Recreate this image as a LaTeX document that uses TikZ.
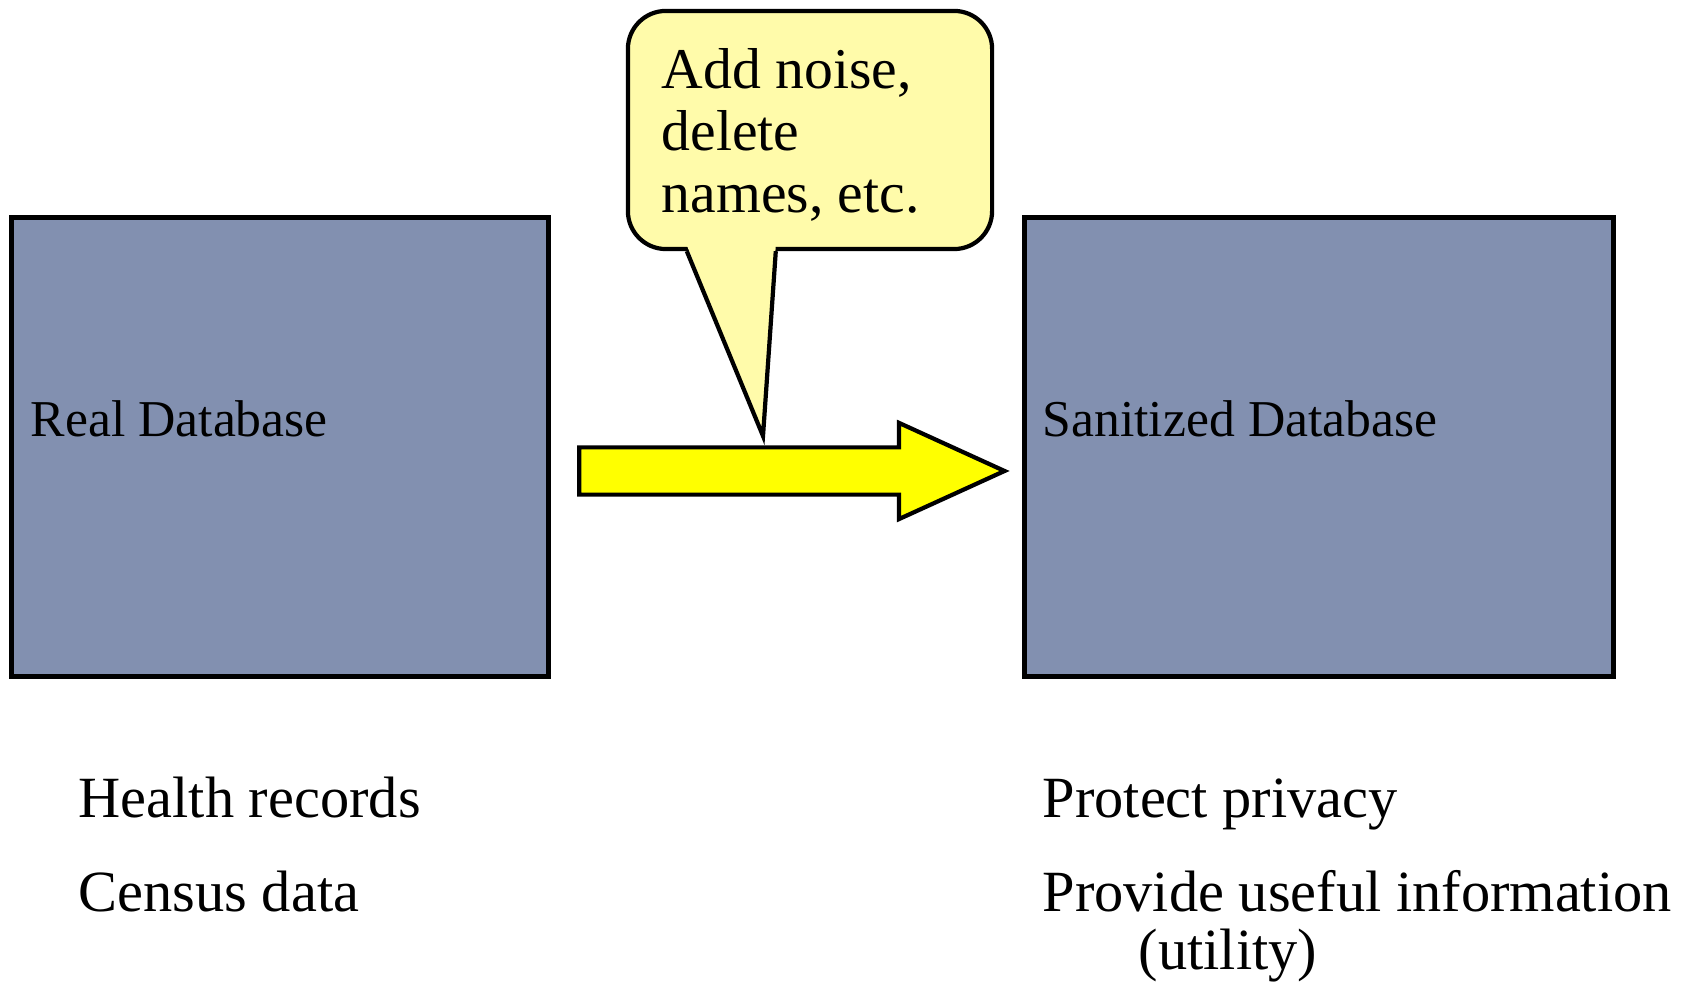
\documentclass[tikz,border=0pt]{standalone}
\usepackage{fontspec}
\setmainfont{Liberation Serif}
\usetikzlibrary{calc,shapes.arrows}
\definecolor{dbblue}{RGB}{130,144,176}
\definecolor{notefill}{RGB}{255,251,170}
\definecolor{flowyellow}{RGB}{255,255,0}

\begin{document}
\begin{tikzpicture}[x=0.01cm, y=-0.01cm,
  db/.style={draw, line width=1.4pt, fill=dbblue, inner sep=0pt},
  lbl/.style={anchor=base west, inner sep=0pt, font=\fontsize{14.7}{17}\selectfont},
  item/.style={anchor=base west, inner sep=0pt, font=\fontsize{16.6}{20}\selectfont},
  bubble/.style={draw, line width=1.2pt, fill=notefill, rounded corners=0.38cm, inner sep=0pt,
    minimum width=3.64cm, minimum height=2.38cm},
  flow/.style={single arrow, draw, line width=1.2pt, fill=flowyellow, inner xsep=0pt, inner ysep=0.215cm,
    minimum height=4.25cm, single arrow head extend=0.245cm, single arrow tip angle=49}
]
\useasboundingbox (0,0) rectangle (1699,989);

% databases
\node[db, minimum width=5.36cm, minimum height=4.58cm] (real) at (280,447) {};
\node[db, minimum width=5.89cm, minimum height=4.58cm] (sanit) at (1319,447) {};
\node[lbl] (realtxt) at (30,437) {Real Database};
\node[lbl] (sanittxt) at (1042,437) {Sanitized Database};

% sanitizing step
\node[flow] (step1) at (766,471) {};
\node[bubble] (note) at (810,130) {};
\coordinate (tip) at (763,436);
\fill[notefill] ($(note.south west)+(61,-6)$) -- (tip) -- ($(note.south west)+(150,-6)$) -- cycle;
\draw[line width=1.2pt, line join=miter] ($(note.south west)+(61,0)$) -- (tip) -- ($(note.south west)+(150,0)$);
\node[anchor=north west, align=left, inner sep=0pt, font=\fontsize{16.4}{17.6}\selectfont] (notetxt) at (661,48)
  {Add noise,\\delete\\names, etc.};

% examples and goals
\node[item] (health) at (78,818) {Health records};
\node[item] (census) at (78,912) {Census data};
\node[item] (protect) at (1042,818) {Protect privacy};
\node[item] (provide) at (1042,912) {Provide useful information};
\node[item] (utility) at (1138,970) {(utility)};
\end{tikzpicture}
\end{document}
